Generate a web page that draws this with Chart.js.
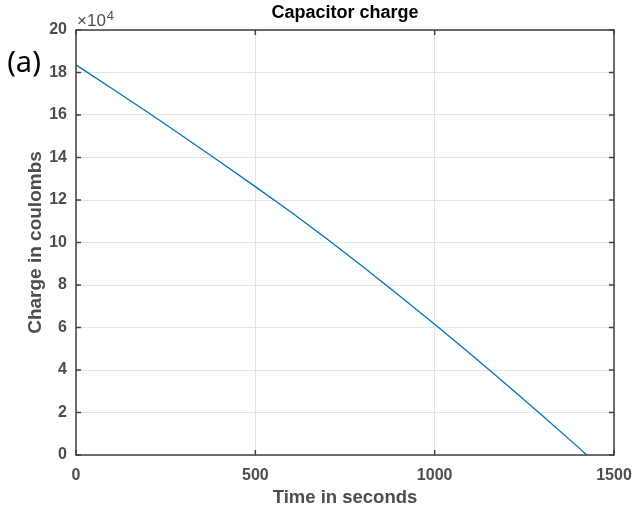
<!DOCTYPE html>
<html>
<head>
<meta charset="utf-8">
<script src="https://cdn.jsdelivr.net/npm/chart.js@4/dist/chart.umd.min.js"></script>
<style>
  html, body { margin: 0; padding: 0; background: #fff; }
  #wrap { width: 635px; height: 513px; }
</style>
</head>
<body>
<div id="wrap"><canvas id="chartQ" width="635" height="513"></canvas></div>
<script>
// values (charge in units of 1e4 C)
var times  = [0, 100, 200, 300, 400, 500, 600, 700, 800, 900, 1000, 1100, 1200, 1300, 1400, 1424];
var charge = [18.36, 17.25, 16.13, 14.98, 13.81, 12.63, 11.42, 10.16, 8.86, 7.52, 6.15, 4.75, 3.32, 1.86, 0.37, 0];
var xTicks = [0, 500, 1000, 1500];
var yTicks = [0, 2, 4, 6, 8, 10, 12, 14, 16, 18, 20];

var axisGray = '#4d4d4d';
var frameGray = '#404040';
var sans = '"Liberation Sans", Arial, sans-serif';

var points = times.map(function (t, i) { return { x: t, y: charge[i] }; });

// frame, inner tick marks, title, exponent and panel tag
var extras = {
  id: 'extras',
  afterDatasetsDraw: function (chart) {
    var ctx = chart.ctx;
    var a = chart.chartArea;
    var xs = chart.scales.x, ys = chart.scales.y;
    ctx.save();
    ctx.strokeStyle = frameGray;
    ctx.lineWidth = 1.5;
    ctx.beginPath();
    xTicks.forEach(function (v) {
      var px = xs.getPixelForValue(v);
      ctx.moveTo(px, a.bottom); ctx.lineTo(px, a.bottom - 5);
      ctx.moveTo(px, a.top); ctx.lineTo(px, a.top + 5);
    });
    yTicks.forEach(function (v) {
      var py = ys.getPixelForValue(v);
      ctx.moveTo(a.left, py); ctx.lineTo(a.left + 5, py);
      ctx.moveTo(a.right, py); ctx.lineTo(a.right - 5, py);
    });
    ctx.stroke();
    ctx.strokeRect(a.left, a.top, a.right - a.left, a.bottom - a.top);

    ctx.fillStyle = '#000';
    ctx.font = 'bold 18px ' + sans;
    ctx.textAlign = 'center';
    ctx.textBaseline = 'middle';
    ctx.fillText('Capacitor charge', (a.left + a.right) / 2, 13);

    ctx.fillStyle = axisGray;
    ctx.textAlign = 'left';
    ctx.textBaseline = 'alphabetic';
    ctx.font = '17px ' + sans;
    ctx.fillText('\u00d710', a.left + 1, 26);
    var w = ctx.measureText('\u00d710').width;
    ctx.font = '13px ' + sans;
    ctx.fillText('4', a.left + 1 + w + 1, 20);

    ctx.fillStyle = '#000';
    ctx.font = '29px "Noto Sans", sans-serif';
    ctx.textAlign = 'center';
    ctx.textBaseline = 'middle';
    ctx.fillText('(a)', 24, 64);
    ctx.restore();
  }
};

var config = {
  type: 'scatter',
  data: {
    datasets: [{
      data: points,
      showLine: true,
      borderColor: '#0072BD',
      borderWidth: 1.3,
      pointRadius: 0,
      fill: false
    }]
  },
  options: {
    responsive: false,
    animation: false,
    devicePixelRatio: 1,
    layout: { padding: { top: 30, right: 21, left: 0, bottom: 0 } },
    plugins: {
      legend: { display: false },
      title: { display: false },
      tooltip: { enabled: false }
    },
    scales: {
      x: {
        type: 'linear',
        min: 0,
        max: 1500,
        afterFit: function (s) { s.height = 58; s.paddingLeft = 0; s.paddingRight = 0; },
        afterBuildTicks: function (s) { s.ticks = xTicks.map(function (v) { return { value: v }; }); },
        ticks: {
          padding: 11,
          color: axisGray,
          font: { family: sans, size: 16, weight: 'bold' },
          maxRotation: 0,
          callback: function (v) { return String(v); }
        },
        grid: { color: '#e3e3e3', lineWidth: 1, drawTicks: false },
        border: { display: false },
        title: {
          display: true,
          text: 'Time in seconds',
          color: axisGray,
          font: { family: sans, size: 18.5, weight: 'bold' },
          padding: { top: 0, bottom: 4 }
        }
      },
      y: {
        type: 'linear',
        min: 0,
        max: 20,
        afterFit: function (s) { s.width = 76; },
        afterBuildTicks: function (s) { s.ticks = yTicks.map(function (v) { return { value: v }; }); },
        ticks: {
          padding: 9,
          color: axisGray,
          font: { family: sans, size: 16, weight: 'bold' },
          callback: function (v) { return String(v); }
        },
        grid: { color: '#e3e3e3', lineWidth: 1, drawTicks: false },
        border: { display: false },
        title: {
          display: true,
          text: 'Charge in coulombs',
          color: axisGray,
          font: { family: sans, size: 19, weight: 'bold' },
          padding: { top: 24, bottom: 0 }
        }
      }
    }
  },
  plugins: [extras]
};

window.onload = function () {
  var ctx = document.getElementById('chartQ').getContext('2d');
  window.chargeChart = new Chart(ctx, config);
};
</script>
</body>
</html>
